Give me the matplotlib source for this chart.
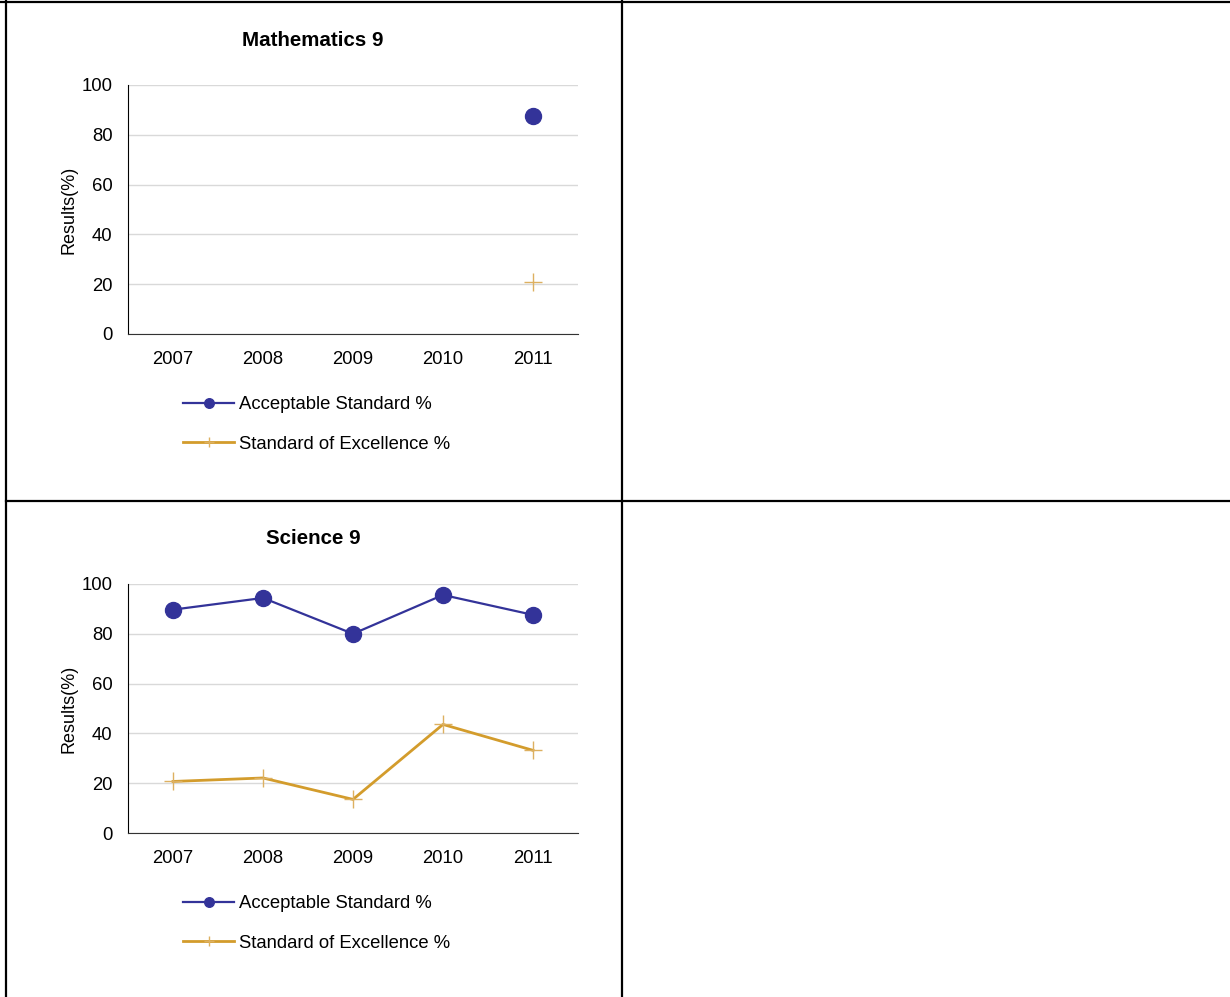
import matplotlib
matplotlib.use('Agg')
import matplotlib.pyplot as plt
from matplotlib.lines import Line2D
import numpy as np

plt.rcParams['font.family'] = ['Liberation Sans', 'DejaVu Sans']

years = ['2007', '2008', '2009', '2010', '2011']

# Mathematics 9 only has a 2011 result
math_acceptable = [np.nan, np.nan, np.nan, np.nan, 87.6]
math_excellence = [np.nan, np.nan, np.nan, np.nan, 20.9]

science_acceptable = [89.7, 94.4, 80.0, 95.6, 87.6]
science_excellence = [20.7, 22.1, 13.5, 43.6, 33.2]

BLUE = '#333399'
GOLD = '#D39C2C'
W, H = 1230, 997

fig = plt.figure(figsize=(W / 100, H / 100), dpi=100)

# table borders
for (x0, y0, x1, y1) in [(0, 2, W, 2), (6, 0, 6, H), (622, 0, 622, H), (6, 501, W, 501)]:
  fig.add_artist(Line2D([x0 / W, x1 / W], [1 - y0 / H, 1 - y1 / H], color='black', lw=1.6,
                        transform=fig.transFigure))

def make_panel(top, title, acc, exc):
  ax = fig.add_axes([128 / W, 1 - (top + 249) / H, 450 / W, 249 / H])
  x = np.arange(len(years))
  ax.plot(x, acc, color=BLUE, lw=1.6, marker='o', ms=11.5, label='Acceptable Standard %')
  ax.plot(x, exc, color=GOLD, lw=2, marker='+', ms=13, mew=1, mec='#DDB060',
          label='Standard of Excellence %')
  ax.set_xlim(-0.5, 4.5)
  ax.set_ylim(0, 100)
  ax.set_yticks([0, 20, 40, 60, 80, 100])
  ax.set_xticks(x)
  ax.set_xticklabels(years)
  ax.tick_params(length=0, labelsize=13.3, pad=12)
  ax.tick_params(axis='y', pad=11)
  ax.grid(axis='y', color='#d9d9d9', lw=1)
  ax.set_axisbelow(True)
  for s in ['top', 'right']:
    ax.spines[s].set_visible(False)
  ax.spines['left'].set_color('black')
  ax.spines['bottom'].set_color('#333333')
  ax.set_ylabel('Results(%)', fontsize=13, labelpad=3)
  fig.text(313 / W, 1 - (top - 45) / H, title, fontsize=14.8, fontweight='bold',
           ha='center', va='center')
  ax.legend(loc='upper left', bbox_to_anchor=(176 / W, 1 - (top + 304) / H),
            bbox_transform=fig.transFigure, frameon=False, fontsize=13.3, markerscale=0.6,
            handlelength=2.75, handletextpad=0.25, labelspacing=1.2, borderaxespad=0)
  return ax

make_panel(85, 'Mathematics 9', math_acceptable, math_excellence)
make_panel(584, 'Science 9', science_acceptable, science_excellence)

fig.savefig('out.png', dpi=100, facecolor='white')
